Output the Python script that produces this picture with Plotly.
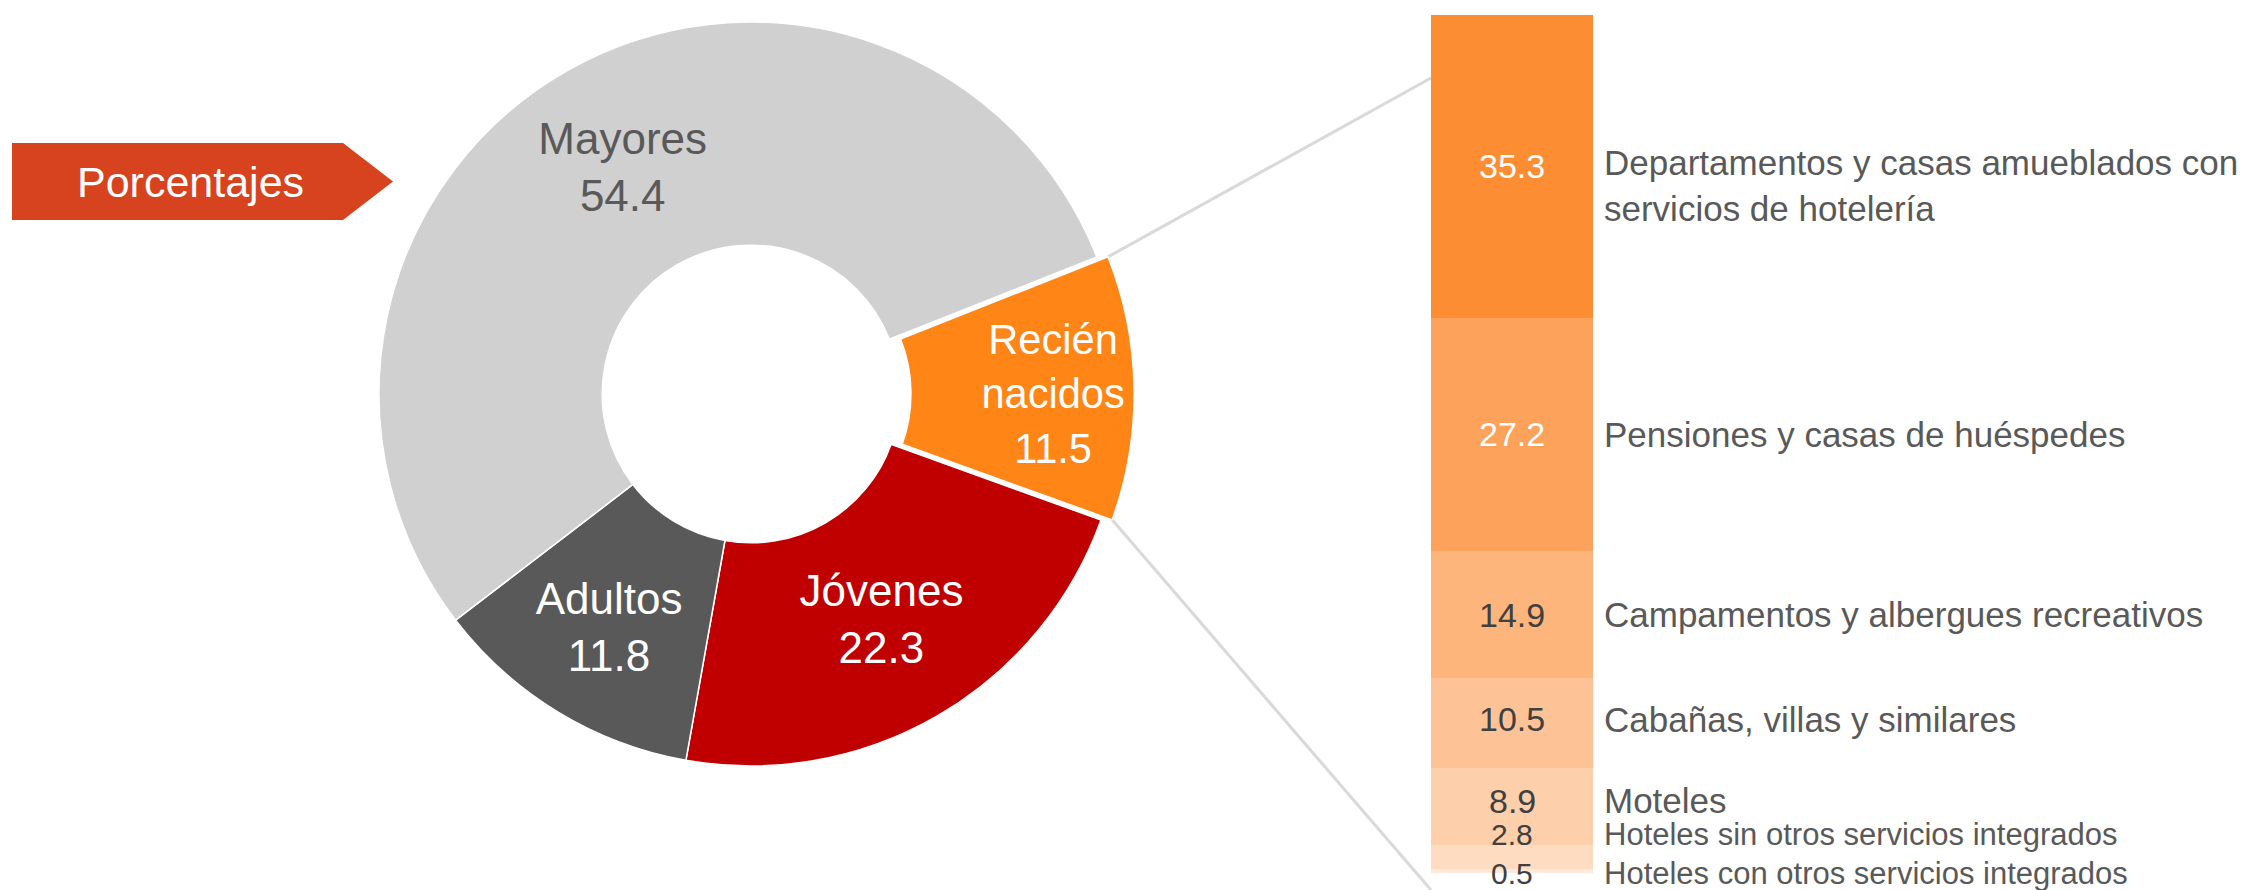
import math
import plotly.graph_objects as go

W, H = 2267, 890
FONT = "Liberation Sans, Arial, sans-serif"

# ---- Donut data ----
age_groups = ["Recién nacidos", "Jóvenes", "Adultos", "Mayores"]
age_values = [11.5, 22.3, 11.8, 54.4]
age_colors = ["#FF8517", "#C00000", "#595959", "#D0D0D0"]
age_text_colors = ["#FFFFFF", "#FFFFFF", "#FFFFFF", "#595959"]

# ---- Stacked bar data (top to bottom) ----
lodging_types = [
    "Departamentos y casas amueblados con<br>servicios de hotelería",
    "Pensiones y casas de huéspedes",
    "Campamentos y albergues recreativos",
    "Cabañas, villas y similares",
    "Moteles",
    "Hoteles sin otros servicios integrados",
    "Hoteles con otros servicios integrados",
]
lodging_values = [35.3, 27.2, 14.9, 10.5, 8.9, 2.8, 0.5]
lodging_colors = ["#FD8D32", "#FCA25A", "#FDB57C", "#FDC397", "#FECFAB", "#FEDCC2", "#FFE9DA"]
lodging_text_colors = ["#FFFFFF", "#FFFFFF", "#404040", "#404040", "#404040", "#404040", "#404040"]
label_yshift = [0, 0, 0, 4, 6, 22, -3]
label_size = [34, 34, 34, 34, 34, 30, 30]

title_text = "Porcentajes"

# ---- geometry / style ----
cx, cy = 751, 394          # donut centre (px)
R = 372                    # outer radius (px)
pull = 0.03
rotation = 68.4
bar_left, bar_right = 1431, 1593
bar_top, bar_bottom = 15, 873
label_x = 1602

def px(x):
    return x / W

def py(y):
    return 1 - y / H

Rdom = R * (1 + pull)

fig = go.Figure()

fig.add_trace(go.Pie(
    labels=age_groups,
    values=age_values,
    text=[g.replace(" ", "<br>") for g in age_groups],
    texttemplate="%{text}<br>%{value:.1f}",
    textinfo="text",
    textposition="inside",
    insidetextorientation="horizontal",
    textfont=dict(family=FONT, size=44, color=age_text_colors),
    marker=dict(colors=age_colors, line=dict(color="#FFFFFF", width=1.5)),
    hole=0.4,
    sort=False,
    direction="clockwise",
    rotation=rotation,
    pull=[pull, 0, 0, 0],
    domain=dict(x=[px(cx - Rdom), px(cx + Rdom)], y=[py(cy + Rdom), py(cy - Rdom)]),
    showlegend=False,
    hoverinfo="label+value",
))

# stacked bar: add from the bottom segment upward
n = len(lodging_values)
for i in reversed(range(n)):
    fig.add_trace(go.Bar(
        x=[0], y=[lodging_values[i]],
        marker=dict(color=lodging_colors[i], line=dict(width=0)),
        width=1, showlegend=False, hoverinfo="y",
        name=lodging_types[i].replace("<br>", " "),
    ))

total_bar = sum(lodging_values)
annotations = []
cum_top = total_bar
for i in range(n):
    mid = cum_top - lodging_values[i] / 2
    cum_top -= lodging_values[i]
    annotations.append(dict(
        x=0, xref="x", y=mid, yref="y", text=f"{lodging_values[i]:.1f}",
        showarrow=False, xanchor="center", yanchor="middle", yshift=label_yshift[i],
        font=dict(family=FONT, size=label_size[i], color=lodging_text_colors[i]),
    ))
    multi = "<br>" in lodging_types[i]
    annotations.append(dict(
        x=px(label_x), xref="paper", y=mid, yref="y", text=lodging_types[i],
        showarrow=False, xanchor="left", align="left",
        yanchor="top" if multi else "middle",
        yshift=(25 if multi else label_yshift[i]),
        font=dict(family=FONT, size=label_size[i] + 1, color="#595959"),
    ))

# banner label
annotations.append(dict(
    x=px(190), xref="paper", y=py(182), yref="paper", text=title_text,
    showarrow=False, xanchor="center", yanchor="middle",
    font=dict(family=FONT, size=43, color="#FFFFFF"),
))

# connector lines from the pulled slice corners to the bar
tot = sum(age_values)
a0 = rotation
a1 = rotation + 360 * age_values[0] / tot
am = math.radians((a0 + a1) / 2)
ox, oy = pull * R * math.sin(am), -pull * R * math.cos(am)

def corner(a):
    a = math.radians(a)
    return cx + ox + R * math.sin(a), cy + oy - R * math.cos(a)

p0, p1 = corner(a0), corner(a1)
shapes = [
    dict(type="line", xref="paper", yref="paper", layer="below",
         x0=px(p0[0]), y0=py(p0[1]), x1=px(bar_left), y1=py(78),
         line=dict(color="#D9D9D9", width=3)),
    dict(type="line", xref="paper", yref="paper", layer="below",
         x0=px(p1[0]), y0=py(p1[1]), x1=px(bar_left), y1=py(890),
         line=dict(color="#D9D9D9", width=3)),
    dict(type="path", xref="paper", yref="paper", layer="above",
         path=f"M {px(12)} {py(143)} L {px(343)} {py(143)} L {px(393)} {py(181.5)} "
              f"L {px(343)} {py(220)} L {px(12)} {py(220)} Z",
         fillcolor="#D7431F", line=dict(width=0)),
]

fig.update_layout(
    width=W, height=H,
    margin=dict(l=0, r=0, t=0, b=0),
    paper_bgcolor="#FFFFFF", plot_bgcolor="rgba(0,0,0,0)",
    barmode="stack", bargap=0,
    xaxis=dict(domain=[px(bar_left), px(bar_right)], range=[-0.5, 0.5], visible=False, fixedrange=True),
    yaxis=dict(domain=[py(bar_bottom), py(bar_top)], range=[0, total_bar], visible=False, fixedrange=True),
    annotations=annotations,
    shapes=shapes,
    font=dict(family=FONT),
)

fig.write_html(
    "out.html",
    config={"displayModeBar": False},
    post_script="document.body.style.margin='0';document.body.style.overflow='hidden';",
)
